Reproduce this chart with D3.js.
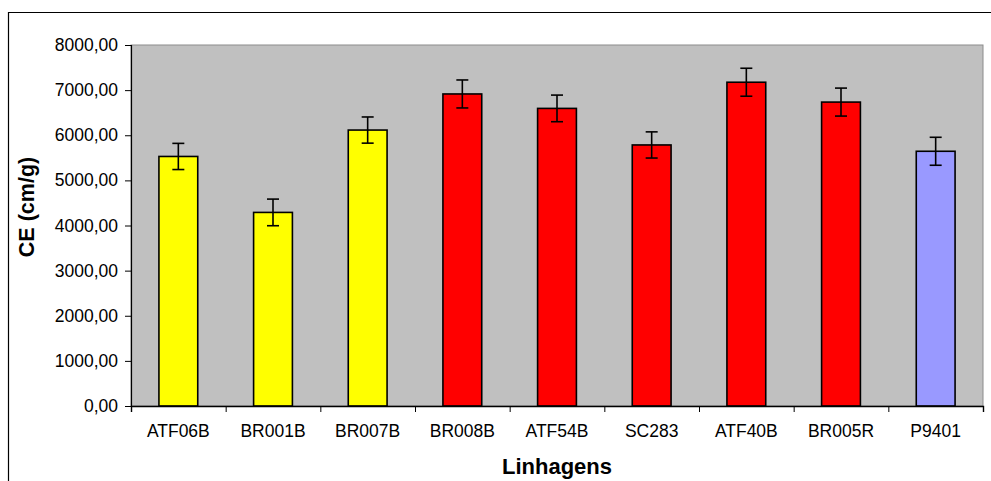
<!DOCTYPE html>
<html>
<head>
<meta charset="utf-8">
<script src="https://cdn.jsdelivr.net/npm/d3@7"></script>
<style>
  body { margin: 0; background: #fff; }
  svg text { font-family: "Liberation Sans", Arial, sans-serif; fill: #000; }
</style>
</head>
<body>
<div id="chart"></div>
<script>
// Data
var linhagens = ["ATF06B", "BR001B", "BR007B", "BR008B", "ATF54B", "SC283", "ATF40B", "BR005R", "P9401"];
var ceMedia = [5530, 4290, 6115, 6915, 6595, 5785, 7175, 6735, 5645];
var ceErro = [290, 295, 290, 310, 295, 290, 310, 310, 310];
var grupo = ["a", "a", "a", "b", "b", "b", "b", "b", "c"];
var yTicks = [0, 1000, 2000, 3000, 4000, 5000, 6000, 7000, 8000];

var cores = { a: "#ffff00", b: "#ff0000", c: "#9999ff" };

var width = 991, height = 481;
var plot = { left: 131, right: 983, top: 45, bottom: 406 };

var svg = d3.select("#chart").append("svg")
  .attr("width", width).attr("height", height);

// moldura externa
svg.append("line").attr("x1", 8.5).attr("x2", 8.5).attr("y1", 12).attr("y2", height)
  .attr("stroke", "#000").attr("stroke-width", 1.2);
svg.append("line").attr("x1", 8).attr("x2", width).attr("y1", 12.5).attr("y2", 12.5)
  .attr("stroke", "#000").attr("stroke-width", 1.2);

var x = d3.scaleBand().domain(linhagens)
  .range([plot.left, plot.right]).paddingInner(0.59).paddingOuter(0.295);
var y = d3.scaleLinear().domain([0, 8000]).range([plot.bottom, plot.top]);

// area de plotagem
svg.append("rect")
  .attr("x", plot.left).attr("y", plot.top)
  .attr("width", plot.right - plot.left).attr("height", plot.bottom - plot.top)
  .attr("fill", "#c0c0c0").attr("stroke", "#8c8c8c").attr("stroke-width", 1);

// barras
svg.selectAll("rect.bar").data(linhagens).enter().append("rect")
  .attr("class", "bar")
  .attr("x", function(d) { return x(d); })
  .attr("y", function(d, i) { return y(ceMedia[i]); })
  .attr("width", x.bandwidth())
  .attr("height", function(d, i) { return y(0) - y(ceMedia[i]); })
  .attr("fill", function(d, i) { return cores[grupo[i]]; })
  .attr("stroke", "#000").attr("stroke-width", 1.6);

// barras de erro
var eb = svg.selectAll("g.err").data(linhagens).enter().append("g")
  .attr("class", "err").attr("stroke", "#000").attr("stroke-width", 1.6);
eb.append("line")
  .attr("x1", function(d) { return x(d) + x.bandwidth() / 2; })
  .attr("x2", function(d) { return x(d) + x.bandwidth() / 2; })
  .attr("y1", function(d, i) { return y(ceMedia[i] + ceErro[i]); })
  .attr("y2", function(d, i) { return y(ceMedia[i] - ceErro[i]); });
[1, -1].forEach(function(s) {
  eb.append("line")
    .attr("x1", function(d) { return x(d) + x.bandwidth() / 2 - 6; })
    .attr("x2", function(d) { return x(d) + x.bandwidth() / 2 + 6; })
    .attr("y1", function(d, i) { return y(ceMedia[i] + s * ceErro[i]); })
    .attr("y2", function(d, i) { return y(ceMedia[i] + s * ceErro[i]); });
});

// eixo Y
var fmt = function(v) { return d3.format(".2f")(v).replace(".", ","); };
var yAxis = svg.append("g").attr("transform", "translate(" + plot.left + ",0)")
  .call(d3.axisLeft(y).tickValues(yTicks).tickFormat(fmt).tickSize(6).tickPadding(7));
yAxis.select(".domain").attr("stroke", "#000").attr("stroke-width", 1.2);
yAxis.selectAll(".tick line").attr("stroke", "#000");
yAxis.selectAll("text").style("font-size", "17.5px").attr("fill", "#000");

// eixo X
var xb = d3.scaleLinear().domain([0, linhagens.length]).range([plot.left, plot.right]);
var xAxis = svg.append("g").attr("transform", "translate(0," + plot.bottom + ")")
  .call(d3.axisBottom(xb).ticks(linhagens.length).tickSize(6).tickFormat(""));
xAxis.select(".domain").attr("stroke", "#000").attr("stroke-width", 1.4);
xAxis.selectAll(".tick line").attr("stroke", "#000");

svg.selectAll("text.cat").data(linhagens).enter().append("text")
  .attr("class", "cat")
  .attr("x", function(d) { return x(d) + x.bandwidth() / 2; })
  .attr("y", 437)
  .attr("text-anchor", "middle")
  .style("font-size", "17.5px")
  .text(function(d) { return d; });

// titulos
svg.append("text")
  .attr("x", (plot.left + plot.right) / 2).attr("y", 474)
  .attr("text-anchor", "middle")
  .style("font-size", "22px").style("font-weight", "bold")
  .text("Linhagens");

svg.append("text")
  .attr("transform", "translate(34,207) rotate(-90)")
  .attr("text-anchor", "middle")
  .style("font-size", "21.5px").style("font-weight", "bold")
  .text("CE (cm/g)");
</script>
</body>
</html>
